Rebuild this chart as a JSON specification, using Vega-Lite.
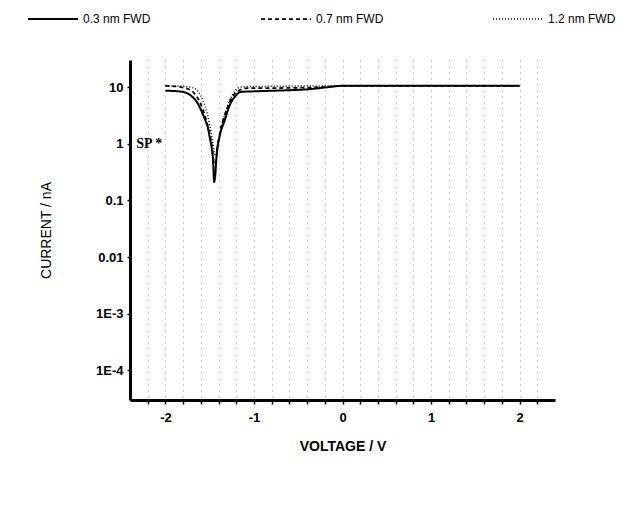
{
  "$schema": "https://vega.github.io/schema/vega-lite/v6.json",
  "width": 425,
  "height": 340,
  "autosize": {"type": "none"},
  "padding": {"left": 130, "top": 60, "right": 87, "bottom": 112},
  "background": "white",
  "config": {
    "view": {"stroke": null},
    "font": "Liberation Sans"
  },
  "datasets": {
    "curves": [
      {"series": "0.3 nm FWD", "V": -2.0, "I": 8.6},
      {"series": "0.3 nm FWD", "V": -1.9, "I": 8.5},
      {"series": "0.3 nm FWD", "V": -1.8, "I": 8.2},
      {"series": "0.3 nm FWD", "V": -1.7, "I": 6.8},
      {"series": "0.3 nm FWD", "V": -1.65, "I": 5.6},
      {"series": "0.3 nm FWD", "V": -1.6, "I": 4.0},
      {"series": "0.3 nm FWD", "V": -1.55, "I": 2.6},
      {"series": "0.3 nm FWD", "V": -1.52, "I": 1.9},
      {"series": "0.3 nm FWD", "V": -1.5, "I": 1.3},
      {"series": "0.3 nm FWD", "V": -1.48, "I": 0.9},
      {"series": "0.3 nm FWD", "V": -1.46, "I": 0.45},
      {"series": "0.3 nm FWD", "V": -1.45, "I": 0.21},
      {"series": "0.3 nm FWD", "V": -1.44, "I": 0.25},
      {"series": "0.3 nm FWD", "V": -1.42, "I": 0.68},
      {"series": "0.3 nm FWD", "V": -1.39, "I": 1.3},
      {"series": "0.3 nm FWD", "V": -1.33, "I": 2.6},
      {"series": "0.3 nm FWD", "V": -1.28, "I": 4.5},
      {"series": "0.3 nm FWD", "V": -1.2, "I": 7.2},
      {"series": "0.3 nm FWD", "V": -1.15, "I": 8.2},
      {"series": "0.3 nm FWD", "V": -1.0, "I": 8.4},
      {"series": "0.3 nm FWD", "V": -0.6, "I": 8.8},
      {"series": "0.3 nm FWD", "V": -0.4, "I": 9.1},
      {"series": "0.3 nm FWD", "V": -0.2, "I": 9.8},
      {"series": "0.3 nm FWD", "V": 0.0, "I": 10.5},
      {"series": "0.3 nm FWD", "V": 1.0, "I": 10.5},
      {"series": "0.3 nm FWD", "V": 2.0, "I": 10.5},
      {"series": "0.7 nm FWD", "V": -2.0, "I": 10.5},
      {"series": "0.7 nm FWD", "V": -1.9, "I": 10.3},
      {"series": "0.7 nm FWD", "V": -1.8, "I": 9.8},
      {"series": "0.7 nm FWD", "V": -1.7, "I": 8.5},
      {"series": "0.7 nm FWD", "V": -1.65, "I": 7.0},
      {"series": "0.7 nm FWD", "V": -1.6, "I": 5.0},
      {"series": "0.7 nm FWD", "V": -1.55, "I": 3.0},
      {"series": "0.7 nm FWD", "V": -1.5, "I": 1.5},
      {"series": "0.7 nm FWD", "V": -1.47, "I": 0.8},
      {"series": "0.7 nm FWD", "V": -1.45, "I": 0.45},
      {"series": "0.7 nm FWD", "V": -1.43, "I": 0.5},
      {"series": "0.7 nm FWD", "V": -1.41, "I": 0.9},
      {"series": "0.7 nm FWD", "V": -1.38, "I": 1.7},
      {"series": "0.7 nm FWD", "V": -1.33, "I": 3.2},
      {"series": "0.7 nm FWD", "V": -1.28, "I": 5.2},
      {"series": "0.7 nm FWD", "V": -1.22, "I": 7.5},
      {"series": "0.7 nm FWD", "V": -1.15, "I": 9.0},
      {"series": "0.7 nm FWD", "V": -1.1, "I": 9.5},
      {"series": "0.7 nm FWD", "V": -0.5, "I": 9.7},
      {"series": "0.7 nm FWD", "V": -0.2, "I": 10.0},
      {"series": "0.7 nm FWD", "V": 0.0, "I": 10.5},
      {"series": "0.7 nm FWD", "V": 2.0, "I": 10.5},
      {"series": "1.2 nm FWD", "V": -2.0, "I": 10.5},
      {"series": "1.2 nm FWD", "V": -1.8, "I": 10.3},
      {"series": "1.2 nm FWD", "V": -1.7, "I": 9.8},
      {"series": "1.2 nm FWD", "V": -1.65, "I": 9.0},
      {"series": "1.2 nm FWD", "V": -1.6, "I": 7.0},
      {"series": "1.2 nm FWD", "V": -1.55, "I": 4.5},
      {"series": "1.2 nm FWD", "V": -1.5, "I": 2.2},
      {"series": "1.2 nm FWD", "V": -1.47, "I": 1.2},
      {"series": "1.2 nm FWD", "V": -1.44, "I": 0.65},
      {"series": "1.2 nm FWD", "V": -1.42, "I": 0.7},
      {"series": "1.2 nm FWD", "V": -1.4, "I": 1.1},
      {"series": "1.2 nm FWD", "V": -1.36, "I": 2.2},
      {"series": "1.2 nm FWD", "V": -1.3, "I": 4.5},
      {"series": "1.2 nm FWD", "V": -1.25, "I": 7.0},
      {"series": "1.2 nm FWD", "V": -1.2, "I": 9.0},
      {"series": "1.2 nm FWD", "V": -1.15, "I": 10.0},
      {"series": "1.2 nm FWD", "V": -1.0, "I": 10.2},
      {"series": "1.2 nm FWD", "V": 0.0, "I": 10.5},
      {"series": "1.2 nm FWD", "V": 2.0, "I": 10.5}
    ],
    "notes": [
      {"V": -2.33, "I": 1, "label": "SP *"}
    ]
  },
  "layer": [
    {
      "data": {"name": "curves"},
      "mark": {"type": "line", "color": "black", "interpolate": "monotone", "clip": true},
      "encoding": {
        "x": {
          "field": "V", "type": "quantitative",
          "scale": {"domain": [-2.4, 2.4], "nice": false, "zero": false},
          "axis": {
            "title": "VOLTAGE / V",
            "values": [-2.2, -2.0, -1.8, -1.6, -1.4, -1.2, -1.0, -0.8, -0.6, -0.4, -0.2, 0, 0.2, 0.4, 0.6, 0.8, 1.0, 1.2, 1.4, 1.6, 1.8, 2.0, 2.2],
            "tickCount": 50,
            "labelOverlap": false,
            "labelExpr": "abs(datum.value - round(datum.value)) < 0.01 ? (datum.value < -0.5 ? '-' + abs(round(datum.value)) : '' + round(datum.value)) : ''",
            "domainColor": "black", "domainWidth": 3,
            "tickColor": "black", "tickSize": 4, "tickWidth": 1.5,
            "labelFontSize": 13, "labelFontWeight": "bold", "labelColor": "black", "labelPadding": 7,
            "titleFontSize": 14, "titleFontWeight": "bold", "titleColor": "black", "titlePadding": 15,
            "grid": true, "gridColor": "#444", "gridDash": [1, 5], "gridWidth": 1, "gridOpacity": 0.55
          }
        },
        "y": {
          "field": "I", "type": "quantitative",
          "scale": {"type": "log", "domain": [0.00003, 30], "nice": false},
          "axis": {
            "title": "CURRENT / nA",
            "values": [0.0001, 0.001, 0.01, 0.1, 1, 10],
            "tickCount": 20,
            "labelExpr": "datum.value >= 0.01 ? format(datum.value, '') : '1E' + round(log(datum.value) / LN10)",
            "domainColor": "black", "domainWidth": 3,
            "tickColor": "black", "tickSize": 3, "tickWidth": 1.5,
            "labelFontSize": 13, "labelFontWeight": "bold", "labelColor": "black", "labelPadding": 4,
            "titleFontSize": 14, "titleFontWeight": "normal", "titleColor": "black", "titlePadding": 42,
            "grid": false
          }
        },
        "strokeDash": {
          "field": "series", "type": "nominal",
          "scale": {"domain": ["0.3 nm FWD", "0.7 nm FWD", "1.2 nm FWD"], "range": [[1, 0], [4, 3], [1, 2]]},
          "legend": {
            "title": null, "orient": "none", "legendX": -103, "legendY": -67,
            "direction": "horizontal", "columns": 3, "columnPadding": 106,
            "symbolType": "stroke", "symbolSize": 2500, "symbolStrokeWidth": 1.5, "symbolStrokeColor": "black",
            "labelFontSize": 12, "labelColor": "black", "labelOffset": 4
          }
        },
        "strokeWidth": {
          "field": "series", "type": "nominal",
          "scale": {"domain": ["0.3 nm FWD", "0.7 nm FWD", "1.2 nm FWD"], "range": [2, 1.5, 1.5]},
          "legend": null
        }
      }
    },
    {
      "data": {"name": "notes"},
      "mark": {"type": "text", "align": "left", "baseline": "middle", "font": "Liberation Serif", "fontWeight": "bold", "fontSize": 14, "color": "black"},
      "encoding": {
        "x": {"field": "V", "type": "quantitative"},
        "y": {"field": "I", "type": "quantitative"},
        "text": {"field": "label"}
      }
    }
  ]
}
